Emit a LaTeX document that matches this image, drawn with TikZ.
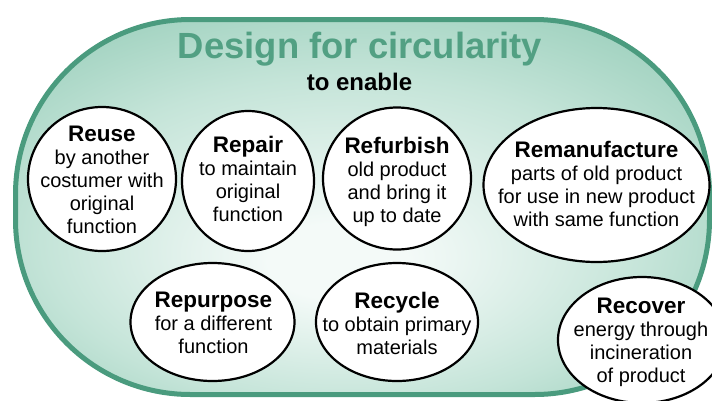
\documentclass[tikz,border=0pt]{standalone}
\usepackage{fontspec}
\setmainfont{Liberation Sans}
\usetikzlibrary{shapes.geometric}
\definecolor{rim}{RGB}{74,155,126}
\definecolor{titlegreen}{RGB}{82,160,131}
\definecolor{inC}{RGB}{244,250,248}
\definecolor{midC}{RGB}{196,228,216}
\definecolor{outC}{RGB}{128,193,169}
\pgfdeclareradialshading{bgshade}{\pgfpoint{-2bp}{-8bp}}{color(0bp)=(inC); color(5bp)=(inC); color(22bp)=(midC); color(42bp)=(outC); color(50bp)=(outC)}
\newcommand\headtxt[1]{{\bfseries\fontsize{22.5}{23}\selectfont #1}}
\tikzset{
  stad/.style={draw=rim, line width=5pt, rounded corners=175pt, shading=bgshade},
  bub/.style={ellipse, draw=black, fill=white, line width=2.2pt, inner sep=0pt},
  btxt/.style={align=center, inner sep=0pt, font=\fontsize{20}{23}\selectfont},
  ttl/.style={anchor=base, inner sep=0pt, font=\bfseries\fontsize{36.4}{40}\selectfont, text=titlegreen},
  sub/.style={anchor=base, inner sep=0pt, font=\bfseries\fontsize{24}{28}\selectfont}
}
\begin{document}
\begin{tikzpicture}[x=1pt,y=-1pt]
\useasboundingbox (0,0) rectangle (712,400);
\clip (0,0) rectangle (712,400);
\path[stad] (15.5,19.5) rectangle (709.5,394.5);
\node[ttl] (title) at (360,58) {Design for circularity};
\node[sub] (enable) at (359.5,90) {to enable};

\node[bub, minimum width=148pt, minimum height=144pt] (reuse) at (102,179) {};
\node[btxt] (reuseT) at (102,180) {\headtxt{Reuse}\\by another\\costumer with\\original\\function};

\node[bub, minimum width=132pt, minimum height=140pt] (repair) at (248,181) {};
\node[btxt] (repairT) at (248,178.5) {\headtxt{Repair}\\to maintain\\original\\function};

\node[bub, minimum width=148pt, minimum height=142pt] (refurb) at (397,178.5) {};
\node[btxt] (refurbT) at (397,181.5) {\headtxt{Refurbish}\\old product\\and bring it\\up to date};

\node[bub, minimum width=226pt, minimum height=154pt] (reman) at (596.5,185) {};
\node[btxt] (remanT) at (596.5,183.5) {\headtxt{Remanufacture}\\parts of old product\\for use in new product\\with same function};

\node[bub, minimum width=164pt, minimum height=118pt] (repurp) at (212.5,322) {};
\node[btxt] (repurpT) at (213.5,323) {\headtxt{Repurpose}\\for a different\\function};

\node[bub, minimum width=162pt, minimum height=118pt] (recyc) at (397,322) {};
\node[btxt] (recycT) at (397,323) {\headtxt{Recycle}\\to obtain primary\\materials};

\node[bub, minimum width=168pt, minimum height=126pt] (recov) at (642,340) {};
\node[btxt] (recovT) at (641,342.5) {\headtxt{Recover}\\energy through\\incineration\\of product};
\end{tikzpicture}
\end{document}
